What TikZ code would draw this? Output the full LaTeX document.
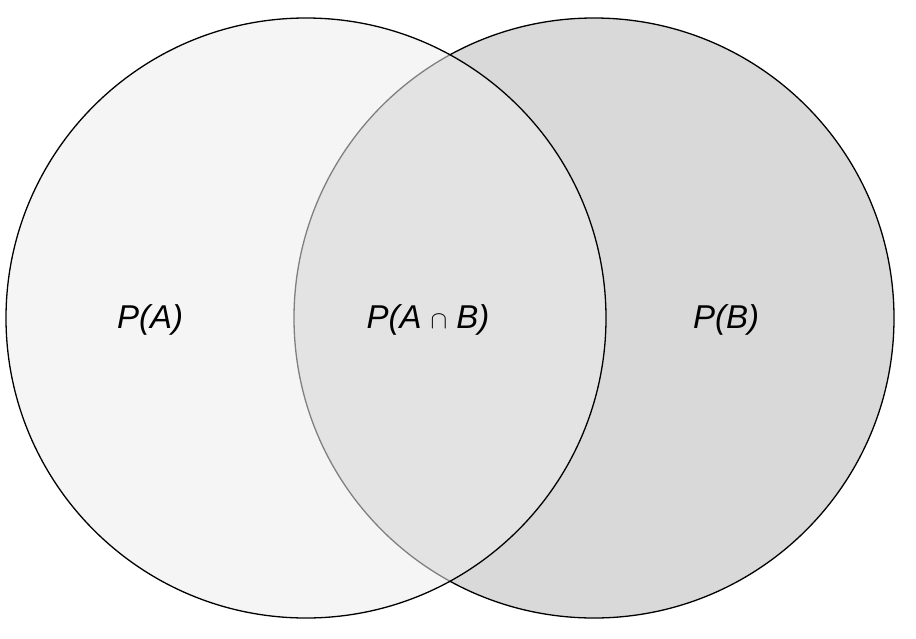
\documentclass[tikz,border=0pt]{standalone}
\usepackage{fontspec}
\setmainfont{Liberation Sans}
\usepackage{amssymb}
\begin{document}
\begin{tikzpicture}[x=1pt,y=-1pt,
    set/.style={draw=black,line width=1.3pt},
    lbl/.style={font=\fontsize{33}{40}\selectfont\itshape}]
        % Frame of the picture
        \useasboundingbox (0,0) rectangle (916,638);
        \fill[white] (0,0) rectangle (916,638);
        
        % Fill the two sets and their overlap
        \fill[gray!8] (306,318) circle (300);
        \fill[gray!30] (594,318) circle (300);
        \begin{scope}
            \clip (306,318) circle (300);
            \fill[gray!22] (594,318) circle (300);
            % Border of B seen through A
            \draw[set,draw=gray] (594,318) circle (300);
        \end{scope}
        
        % Outer borders
        \begin{scope}
            \clip (0,0) rectangle (916,638) (306,318) circle (300);
            \draw[set] (594,318) circle (300);
        \end{scope}
        \draw[set] (306,318) circle (300);
        
        % Label the regions
        \node[lbl] (pa) at (150,320) {P(A)};
        \node[lbl] (pab) at (428,320) {P(A $\cap$ B)};
        \node[lbl] (pb) at (726,320) {P(B)};
\end{tikzpicture}
\end{document}
